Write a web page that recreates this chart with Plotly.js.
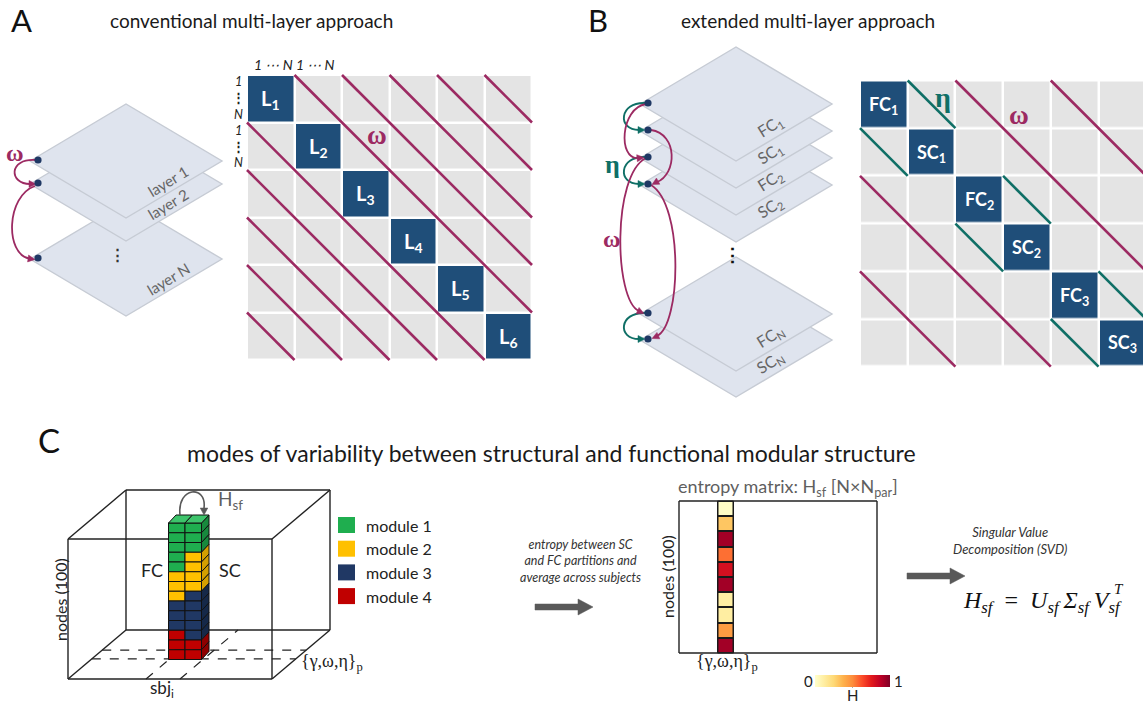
<!DOCTYPE html>
<html><head><meta charset="utf-8">
<script src="https://cdn.plot.ly/plotly-3.0.1.min.js"></script>
<style>body{margin:0;background:#fff}#chart{width:1143px;height:703px}</style>
</head><body><div id="chart"></div>
<script>
// ---------------- data ----------------
const titleA = 'conventional multi-layer approach';
const titleB = 'extended multi-layer approach';
const titleC = 'modes of variability between structural and functional modular structure';
const layerNamesA = ['layer 1', 'layer 2', 'layer N'];
const blockLabelsA = ['L<sub>1</sub>', 'L<sub>2</sub>', 'L<sub>3</sub>', 'L<sub>4</sub>', 'L<sub>5</sub>', 'L<sub>6</sub>'];
const blockLabelsB = ['FC<sub>1</sub>', 'SC<sub>1</sub>', 'FC<sub>2</sub>', 'SC<sub>2</sub>', 'FC<sub>3</sub>', 'SC<sub>3</sub>'];
const layerNamesB = ['FC<sub>1</sub>', 'SC<sub>1</sub>', 'FC<sub>2</sub>', 'SC<sub>2</sub>', 'FC<sub>N</sub>', 'SC<sub>N</sub>'];
const nodeIndexTop = '1 ⋯ N 1 ⋯ N';
const nodeIndexLeft = ['1', '⋮', 'N', '1', '⋮', 'N'];
const moduleNames = ['module 1', 'module 2', 'module 3', 'module 4'];
const moduleColors = ['#1fae4f', '#ffc000', '#203864', '#c00000'];
const moduleSide = ['#17893d', '#d49f00', '#152848', '#8f0000'];
const moduleTop = ['#3dc46b', '#ffd24d', '#34508a', '#d83030'];
const fcModules = [1, 1, 1, 1, 1, 2, 2, 2, 3, 3, 3, 4, 4, 4];
const scModules = [1, 1, 1, 2, 2, 2, 2, 3, 3, 3, 3, 3, 4, 4];
const entropyValues = [0.02, 0.31, 0.93, 0.56, 0.8, 0.93, 0.12, 0.12, 0.45, 0.93];
const entropyScale = [[0, '#ffffcc'], [0.125, '#ffeda0'], [0.25, '#fed976'], [0.375, '#feb24c'], [0.5, '#fd8d3c'], [0.625, '#fc4e2a'], [0.75, '#e31a1c'], [0.875, '#bd0026'], [1, '#800026']];

// ---------------- styles ----------------
const FONT = 'Lato, "Open Sans", sans-serif';
const SERIF = '"Liberation Serif", "DejaVu Serif", serif';
const PURPLE = '#9c2a62';
const TEAL = '#0f6f66';
const NAVY = '#1f3864';
const BLOCK = '#1f4e79';
const CELL = '#e4e4e4';
const PLANE = '#dfe4ee';
const PLANE_EDGE = '#c6cbd4';
const GREYTXT = '#5f5f5f';
const ARROW = '#595959';

const shapes = [];
const annotations = [];
const traces = [];
const f = v => (+v).toFixed(2);

function poly(pts, fill, line, lw, layer) {
  shapes.push({type: 'path', xref: 'x', yref: 'y', layer: layer || 'above',
    path: 'M' + pts.map(p => f(p[0]) + ',' + f(p[1])).join('L') + 'Z',
    fillcolor: fill, line: {color: line || 'rgba(0,0,0,0)', width: lw || 0}});
}
function seg(x0, y0, x1, y1, color, lw, dash, layer) {
  shapes.push({type: 'line', xref: 'x', yref: 'y', x0, y0, x1, y1, layer: layer || 'above',
    line: {color, width: lw, dash: dash || 'solid'}});
}
function curve(d, color, lw) {
  shapes.push({type: 'path', xref: 'x', yref: 'y', path: d, fillcolor: 'rgba(0,0,0,0)', line: {color, width: lw}});
}
function head(tx, ty, dx, dy, color, L, W) {
  const n = Math.hypot(dx, dy); dx /= n; dy /= n;
  const bx = tx - dx * L, by = ty - dy * L;
  poly([[tx, ty], [bx - dy * W, by + dx * W], [bx + dy * W, by - dx * W]], color, color, 0.5);
}
function dot(x, y, r, color) {
  shapes.push({type: 'circle', xref: 'x', yref: 'y', x0: x - r, x1: x + r, y0: y - r, y1: y + r, fillcolor: color, line: {color, width: 0}});
}
function label(x, y, text, size, color, opts) {
  opts = opts || {};
  annotations.push({x, y, xref: 'x', yref: 'y', text, showarrow: false,
    font: {family: opts.family || FONT, size, color},
    xanchor: opts.xanchor || 'center', yanchor: opts.yanchor || 'middle',
    textangle: opts.angle || 0, borderpad: 0});
}
function fatArrow(x0, x1, y, color) {
  const hl = 15, hw = 8, sw = 3;
  poly([[x0, y - sw], [x1 - hl, y - sw], [x1 - hl, y - hw], [x1, y], [x1 - hl, y + hw], [x1 - hl, y + sw], [x0, y + sw]], color, color, 0.5);
}
function plane(cx, cy) {
  poly([[cx - 96, cy], [cx, cy - 57], [cx + 96, cy], [cx, cy + 57]], PLANE, PLANE_EDGE, 1.4);
}

// ---------------- panel titles ----------------
label(21, 20, 'A', 31, '#111');
label(251, 20, titleA, 19, '#1a1a1a');
label(598, 20, 'B', 31, '#111');
label(808, 20, titleB, 19, '#1a1a1a');
label(49, 440, 'C', 33, '#111');
label(551, 453, titleC, 23, '#1a1a1a');

// ---------------- matrices ----------------
function matrix(M, labels, size) {
  const xs = [], ys = [], z = [];
  for (let i = 0; i < labels.length; i++) {
    xs.push(M.x0 + M.c * (i + 0.5));
    ys.push(M.y0 + M.c * (i + 0.5));
  }
  for (let i = 0; i < labels.length; i++) z.push(labels.map((_, j) => (i === j ? 1 : 0)));
  traces.push({type: 'heatmap', x: xs, y: ys, z, zmin: 0, zmax: 1, xgap: 2.5, ygap: 2.5,
    colorscale: [[0, CELL], [1, BLOCK]], showscale: false, hoverinfo: 'skip'});
  labels.forEach((t, i) => label(xs[i], ys[i] + 1, '<b>' + t + '</b>', size, '#ffffff'));
}
function diagLines(M, n, offsets, color) {
  const x = [], y = [];
  offsets.forEach(k => {
    x.push(M.x0 + k * M.c, M.x0 + n * M.c, null); y.push(M.y0, M.y0 + (n - k) * M.c, null);
    x.push(M.x0, M.x0 + (n - k) * M.c, null); y.push(M.y0 + k * M.c, M.y0 + n * M.c, null);
  });
  traces.push({type: 'scatter', mode: 'lines', x, y, line: {color, width: 2.6}, hoverinfo: 'skip'});
}
function cellLines(M, cells, color) {
  const x = [], y = [];
  cells.forEach(([i, j]) => {
    x.push(M.x0 + j * M.c, M.x0 + (j + 1) * M.c, null);
    y.push(M.y0 + i * M.c, M.y0 + (i + 1) * M.c, null);
  });
  traces.push({type: 'scatter', mode: 'lines', x, y, line: {color, width: 2.6}, hoverinfo: 'skip'});
}

const MA = {x0: 247, y0: 75, c: 47.5};
matrix(MA, blockLabelsA, 20);
diagLines(MA, 6, [1, 2, 3, 4, 5], PURPLE);
label(377, 135, '<b>ω</b>', 27, PURPLE, {family: SERIF});
label(294, 64, '<i>' + nodeIndexTop + '</i>', 14, '#222');
label(238, 122, nodeIndexLeft.map(t => (t === '⋮' ? '<b>' + t + '</b>' : '<i>' + t + '</i>')).join('<br>'), 12.5, '#222');

const MB = {x0: 860, y0: 80.5, c: 47.7};
matrix(MB, blockLabelsB, 18);
diagLines(MB, 6, [2, 4], PURPLE);
cellLines(MB, [[0, 1], [1, 0], [2, 3], [3, 2], [4, 5], [5, 4]], TEAL);
label(943, 97, '<b>η</b>', 28, TEAL, {family: SERIF});
label(1019, 115, '<b>ω</b>', 27, PURPLE, {family: SERIF});

// ---------------- panel A layers ----------------
const layerYA = [161, 184, 259];
for (let i = layerYA.length - 1; i >= 0; i--) {
  plane(126, layerYA[i]);
  label(168, layerYA[i] + 20, layerNamesA[i], 15, '#666', {angle: -31});
}
label(117, 254, '<b>⋮</b>', 15, '#333');
curve('M 36,160 C 8,158 9,184 30,184', PURPLE, 1.8);
head(36, 184, 1, 0, PURPLE, 7, 3.5);
curve('M 35,186 C 6,196 5,254 29,258.5', PURPLE, 1.8);
head(35, 259.5, 1, 0.15, PURPLE, 7, 3.5);
layerYA.forEach(y => dot(38, y - 1, 3.6, NAVY));
label(15, 153, '<b>ω</b>', 24, PURPLE, {family: SERIF});

// ---------------- panel B layers ----------------
const layerYB = [104, 131, 158, 185, 314, 340];
for (let i = layerYB.length - 1; i >= 0; i--) {
  plane(736, layerYB[i]);
  label(770, layerYB[i] + 22, layerNamesB[i], 16, '#666', {angle: -32});
}
label(732, 254, '<b>⋮</b>', 19, '#111');
// eta (teal) links between FC and SC of same subject
curve('M 645,103 C 619,102 617,130 639,130', TEAL, 1.9);
head(645, 130, 1, 0, TEAL, 7, 3.5);
curve('M 645,157 C 619,156 617,184 639,184', TEAL, 1.9);
head(645, 184, 1, 0, TEAL, 7, 3.5);
curve('M 645,313 C 619,312 617,339 639,339', TEAL, 1.9);
head(645, 339, 1, 0, TEAL, 7, 3.5);
// omega (purple) links between layers of same type
curve('M 646,104 C 620,108 618,160 638,158', PURPLE, 1.8);
head(644, 157.5, 1, -0.1, PURPLE, 7, 3.5);
curve('M 651,130 C 678,134 677,174 657,182', PURPLE, 1.8);
head(652, 184.5, -1, 0.55, PURPLE, 7, 3.5);
curve('M 646,158 C 612,175 614,300 639,311', PURPLE, 1.8);
head(644, 313.5, 1, 0.45, PURPLE, 7, 3.5);
curve('M 651,185 C 684,205 681,325 657,336', PURPLE, 1.8);
head(652, 338.5, -1, 0.45, PURPLE, 7, 3.5);
layerYB.forEach(y => dot(648, y - 1, 3.6, NAVY));
label(612, 164, '<b>η</b>', 26, TEAL, {family: SERIF});
label(612, 239, '<b>ω</b>', 24, PURPLE, {family: SERIF});

// ---------------- panel C: 3D box with module stacks ----------------
const BX = {l: 68, r: 272, t: 539, b: 679, dx: 58, dy: -49};
seg(BX.l + BX.dx, BX.t + BX.dy, BX.r + BX.dx, BX.t + BX.dy, '#222', 1.4);
seg(BX.l + BX.dx, BX.b + BX.dy, BX.r + BX.dx, BX.b + BX.dy, '#222', 1.4);
seg(BX.l + BX.dx, BX.t + BX.dy, BX.l + BX.dx, BX.b + BX.dy, '#222', 1.4);
seg(BX.r + BX.dx, BX.t + BX.dy, BX.r + BX.dx, BX.b + BX.dy, '#222', 1.4);
[[BX.l, BX.t], [BX.r, BX.t], [BX.l, BX.b], [BX.r, BX.b]].forEach(([x, y]) => seg(x, y, x + BX.dx, y + BX.dy, '#222', 1.4));
[0.41, 0.59].forEach(t => seg(BX.l + BX.dx * t, BX.b + BX.dy * t, BX.r + BX.dx * t, BX.b + BX.dy * t, '#222', 1.2, 'dash'));
[146, 180].forEach(x => seg(x, BX.b, x + BX.dx, BX.b + BX.dy, '#222', 1.2, 'dash'));
seg(BX.l, BX.t, BX.r, BX.t, '#222', 1.4);
seg(BX.l, BX.b, BX.r, BX.b, '#222', 1.4);
seg(BX.l, BX.t, BX.l, BX.b, '#222', 1.4);
seg(BX.r, BX.t, BX.r, BX.b, '#222', 1.4);

const ST = {x0: 168.5, w: 16.5, top: 523, h: 9.75, dx: 7.5, dy: -8};
[fcModules, scModules].forEach((mods, c) => {
  const xa = ST.x0 + c * ST.w, xb = xa + ST.w;
  mods.forEach((m, r) => {
    const ya = ST.top + r * ST.h, yb = ya + ST.h;
    poly([[xa, ya], [xb, ya], [xb, yb], [xa, yb]], moduleColors[m - 1], '#111', 1);
    if (c === 1) poly([[xb, ya], [xb + ST.dx, ya + ST.dy], [xb + ST.dx, yb + ST.dy], [xb, yb]], moduleSide[m - 1], '#111', 1);
  });
  poly([[xa, ST.top], [xb, ST.top], [xb + ST.dx, ST.top + ST.dy], [xa + ST.dx, ST.top + ST.dy]], moduleTop[mods[0] - 1], '#111', 1);
});
curve('M 180,515 C 177,486 207,485 204,508', ARROW, 1.6);
head(204, 515, 0, 1, ARROW, 7, 3.8);
label(217, 500, 'H<sub>sf</sub>', 19, GREYTXT, {xanchor: 'left'});
label(152, 570, 'FC', 18, '#222');
label(230, 570, 'SC', 18, '#222');
label(60, 600, 'nodes (100)', 16, '#222', {angle: -90});
label(162, 689, 'sbj<sub>i</sub>', 17, '#222');
label(300, 662, '{γ,ω,η}<sub>p</sub>', 18, '#222', {family: SERIF, xanchor: 'left'});

// legend of modules
moduleNames.forEach((nm, i) => {
  const yc = 525 + i * 23.7;
  poly([[338, yc - 8], [355, yc - 8], [355, yc + 8], [338, yc + 8]], moduleColors[i], moduleColors[i], 0);
  label(365, yc, nm, 16, '#222', {xanchor: 'left'});
});

// ---------------- arrows + captions ----------------
label(580, 561, '<i>entropy between SC</i><br><i>and FC partitions and</i><br><i>average across subjects</i>', 12.5, '#333');
fatArrow(535, 593, 607, ARROW);
label(1010, 540, '<i>Singular Value</i><br><i>Decomposition (SVD)</i>', 13, '#333');
fatArrow(907, 965, 576, ARROW);
label(962, 602, '<i>H<sub>sf</sub></i>\u2002=\u2002<i>U<sub>sf</sub>\u2009Σ<sub>sf</sub>\u2009V<sub>sf</sub></i>', 24, '#111', {family: SERIF, xanchor: 'left'});
label(1119, 589, '<i>T</i>', 15, '#111', {family: SERIF});

// ---------------- entropy matrix ----------------
const EM = {l: 679, r: 877, t: 501, b: 653, cx0: 717.5, cx1: 733.5};
const ey = entropyValues.map((_, i) => EM.t + (EM.b - EM.t) * i / entropyValues.length);
ey.push(EM.b);
poly([[EM.cx0, EM.t], [EM.cx1, EM.t], [EM.cx1, EM.b], [EM.cx0, EM.b]], '#1a1a1a', '#1a1a1a', 1, 'below');
traces.push({type: 'heatmap', x: [EM.cx0, EM.cx1], y: ey, z: entropyValues.map(v => [v]),
  zmin: 0, zmax: 1, colorscale: entropyScale, xgap: 2, ygap: 2, hoverinfo: 'skip',
  showscale: true,
  colorbar: {orientation: 'h', x: 852.5 / 1143, xanchor: 'center', y: 1 - 681 / 703, yanchor: 'middle',
    lenmode: 'pixels', len: 75, thickness: 12, thicknessmode: 'pixels', xpad: 0, ypad: 0,
    outlinewidth: 0, showticklabels: false, ticks: ''}});
seg(EM.l, EM.t, EM.r, EM.t, '#222', 1.4);
seg(EM.l, EM.b, EM.r, EM.b, '#222', 1.4);
seg(EM.l, EM.t, EM.l, EM.b, '#222', 1.4);
seg(EM.r, EM.t, EM.r, EM.b, '#222', 1.4);
seg(852.5, 684, 852.5, 687.5, '#555', 1);
label(788, 487, 'entropy matrix: H<sub>sf</sub> [N×N<sub>par</sub>]', 18, GREYTXT);
label(667, 577, 'nodes (100)', 16, '#222', {angle: -90});
label(727, 662, '{γ,ω,η}<sub>p</sub>', 18, '#222', {family: SERIF});
label(808, 681, '0', 15, '#222');
label(898, 681, '1', 15, '#222');
label(852, 695, 'H', 15, '#222');

// ---------------- layout ----------------
const layout = {
  width: 1143, height: 703, margin: {l: 0, r: 0, t: 0, b: 0},
  paper_bgcolor: '#ffffff', plot_bgcolor: '#ffffff', showlegend: false,
  xaxis: {range: [0, 1143], visible: false, fixedrange: true},
  yaxis: {range: [703, 0], visible: false, fixedrange: true},
  shapes, annotations
};
Plotly.newPlot('chart', traces, layout, {staticPlot: true, displayModeBar: false});
</script></body></html>
